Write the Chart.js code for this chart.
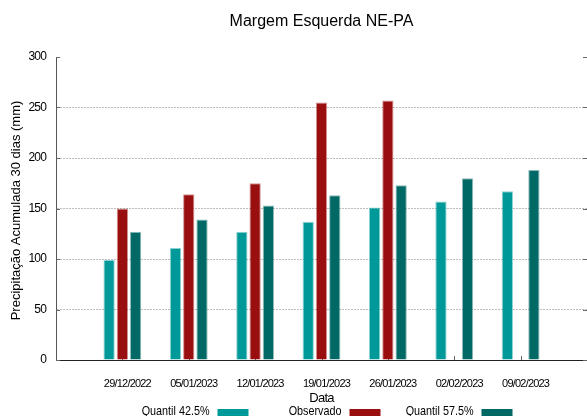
<!DOCTYPE html>
<html>
<head>
<meta charset="utf-8">
<script src="https://cdn.jsdelivr.net/npm/chart.js@4/dist/chart.umd.min.js"></script>
<style>
  html, body { margin: 0; padding: 0; background: #fff; }
</style>
</head>
<body>
<canvas id="chart" width="587" height="416"></canvas>
<script>
const dates = ["29/12/2022", "05/01/2023", "12/01/2023", "19/01/2023", "26/01/2023", "02/02/2023", "09/02/2023"];
const quantil425 = [99, 111, 127, 137, 151, 157, 167];
const observado = [150, 164, 175, 255, 257, null, null];
const quantil575 = [127, 139, 153, 163, 173, 180, 188];
const yTicks = [0, 50, 100, 150, 200, 250, 300];

const sans = "'Liberation Sans', Arial, sans-serif";

// blank slot at each end so the groups sit like the original
const labels = ["", ...dates, ""];
const pad = (arr) => [null, ...arr, null];

// no narrow font installed: squeeze the axis text a little,
// then draw title, y title and legend (text before the box) by hand
const extras = {
  id: "extras",
  beforeDraw(chart) {
    chart.ctx.letterSpacing = "-0.8px";
  },
  beforeDatasetsDraw(chart) {
    // short inward tics, gnuplot style (bars cover them)
    const ctx = chart.ctx;
    const area = chart.chartArea;
    const x = chart.scales.x;
    const y = chart.scales.y;
    ctx.save();
    ctx.strokeStyle = "#666";
    ctx.lineWidth = 1;
    ctx.beginPath();
    for (let i = 1; i < labels.length - 1; i++) {
      const px = Math.round(x.getPixelForTick(i)) + 0.5;
      ctx.moveTo(px, area.bottom);
      ctx.lineTo(px, area.bottom - 4);
    }
    yTicks.forEach((v) => {
      const py = Math.round(y.getPixelForValue(v)) + 0.5;
      ctx.moveTo(area.left, py);
      ctx.lineTo(area.left + 4, py);
      ctx.moveTo(area.right, py);
      ctx.lineTo(area.right - 4, py);
    });
    ctx.stroke();
    ctx.restore();
  },
  afterDraw(chart) {
    const ctx = chart.ctx;
    const area = chart.chartArea;
    const mid = (area.left + area.right) / 2;
    ctx.save();
    ctx.letterSpacing = "0px";
    ctx.fillStyle = "#000";
    ctx.textAlign = "center";
    ctx.textBaseline = "middle";
    ctx.font = "16px " + sans;
    ctx.fillText("Margem Esquerda NE-PA", mid, 22);

    ctx.save();
    ctx.translate(16, (area.top + area.bottom) / 2 + 2);
    ctx.rotate(-Math.PI / 2);
    ctx.font = "13px " + sans;
    ctx.fillText("Precipitação Acumulada 30 dias (mm)", 0, 0);
    ctx.restore();

    ctx.font = "13px " + sans;
    ctx.textAlign = "right";
    const sx = 0.83;
    chart.data.datasets.forEach((ds, i) => {
      const boxLeft = mid + 28 + (i - 1) * 132;
      ctx.save();
      ctx.scale(sx, 1);
      ctx.fillStyle = "#000";
      ctx.fillText(ds.label, (boxLeft - 8) / sx, 411);
      ctx.restore();
      ctx.fillStyle = ds.backgroundColor;
      ctx.fillRect(boxLeft, 409, 31, 12);
    });
    ctx.restore();
  }
};

new Chart(document.getElementById("chart"), {
  type: "bar",
  data: {
    labels: labels,
    datasets: [
      {
        label: "Quantil 42.5%",
        data: pad(quantil425),
        backgroundColor: "#009999",
        borderColor: "rgba(0,153,153,0.45)",
        borderWidth: 1,
      },
      {
        label: "Observado",
        data: pad(observado),
        backgroundColor: "#990e0e",
        borderColor: "rgba(153,14,14,0.45)",
        borderWidth: 1,
      },
      {
        label: "Quantil 57.5%",
        data: pad(quantil575),
        backgroundColor: "#006966",
        borderColor: "rgba(0,105,102,0.45)",
        borderWidth: 1,
      },
    ],
  },
  options: {
    responsive: false,
    animation: false,
    categoryPercentage: 0.6,
    barPercentage: 0.85,
    layout: { padding: { top: 57, right: 0, bottom: 0, left: 0 } },
    plugins: {
      legend: { display: false },
      title: { display: false },
      tooltip: { enabled: false },
    },
    scales: {
      x: {
        offset: false,
        grid: { display: false, drawTicks: false, offset: false },
        border: { display: true, color: "#222", width: 1 },
        ticks: {
          autoSkip: false,
          maxRotation: 0,
          padding: 17,
          labelOffset: 5,
          color: "#000",
          font: { family: sans, size: 11 },
        },
        title: {
          display: true,
          text: "Data",
          color: "#000",
          font: { family: sans, size: 13 },
          padding: { top: 0, bottom: 10 },
        },
        afterFit(scale) {
          scale.height = 56;
          scale.paddingLeft = 0;
          scale.paddingRight = 0;
        },
      },
      y: {
        min: 0,
        max: 300,
        afterBuildTicks(scale) {
          scale.ticks = yTicks.map((v) => ({ value: v }));
        },
        grid: {
          drawTicks: false,
          lineWidth: 1,
          color: (c) =>
            c.tick && (c.tick.value === 0 || c.tick.value === 300) ? "rgba(0,0,0,0)" : "#bdbdbd",
        },
        border: { display: true, color: "#555", width: 1, dash: [2, 1] },
        ticks: {
          padding: 10,
          color: "#000",
          font: { family: sans, size: 12 },
        },
        afterFit(scale) {
          scale.width = 56;
        },
      },
    },
  },
  plugins: [extras],
});
</script>
</body>
</html>
